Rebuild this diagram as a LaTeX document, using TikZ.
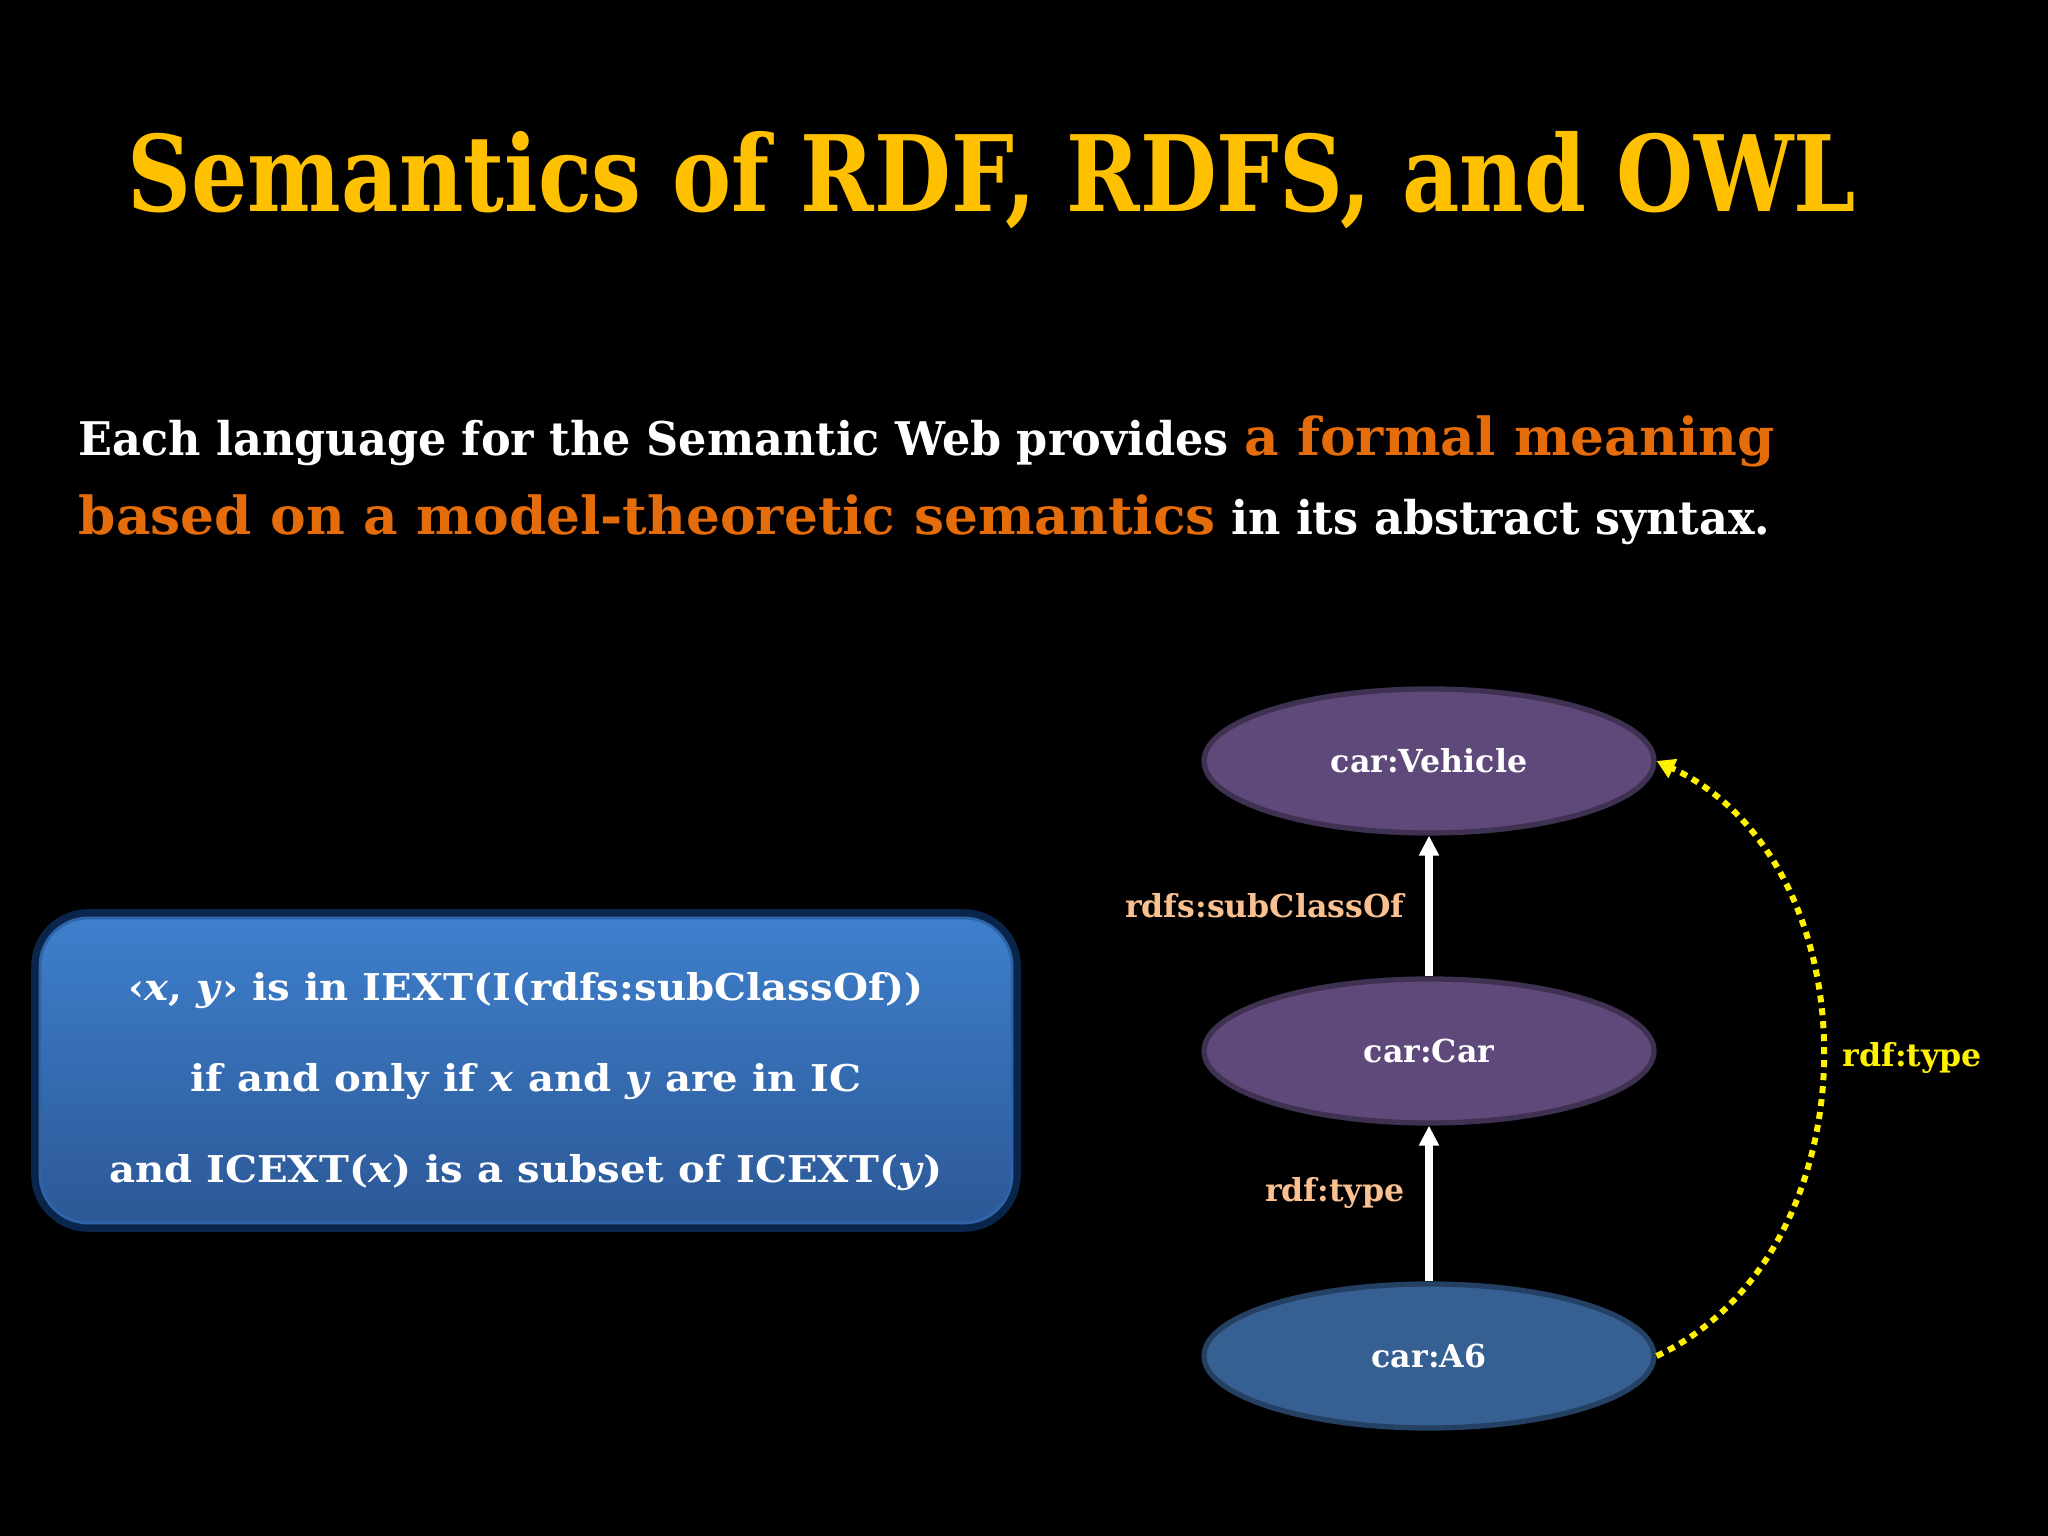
\documentclass[tikz,border=0pt]{standalone}
\usepackage{fontspec}
\setmainfont{DejaVu Serif}
\newfontfamily\titlefont{DejaVu Serif}[FakeStretch=0.84]
\newfontfamily\introfont{DejaVu Serif}[FakeStretch=0.96]
\newfontfamily\accentfont{DejaVu Serif}[FakeStretch=1.02]
\newfontfamily\boxfont{DejaVu Serif}[FakeStretch=1.09]
\usetikzlibrary{arrows.meta, positioning, shapes.geometric}

\definecolor{titleyellow}{HTML}{FFC000}
\definecolor{bodyorange}{HTML}{E46C0A}
\definecolor{edgepeach}{HTML}{FAC090}
\definecolor{classfill}{HTML}{5F497A}
\definecolor{classborder}{HTML}{3F3151}
\definecolor{instfill}{HTML}{376092}
\definecolor{instborder}{HTML}{244062}
\definecolor{boxtop}{HTML}{3E7FCC}
\definecolor{boxbottom}{HTML}{2C5896}
\definecolor{boxrim}{HTML}{2F64A8}
\definecolor{boxglow}{HTML}{0C2A55}

\newcommand{\orangetext}[1]{{\accentfont\color{bodyorange}\fontsize{14.9}{16}\selectfont #1}}

\begin{document}
\begin{tikzpicture}[
  class/.style={ellipse, draw=classborder, line width=1.5pt, fill=classfill,
    minimum width=4.5cm, minimum height=1.44cm, inner sep=0pt, text=white,
    font=\bfseries\fontsize{9}{11}\selectfont},
  inst/.style={class, draw=instborder, fill=instfill},
  uparrow/.style={draw=white, line width=2pt,
    -{Triangle[length=0.2cm, width=0.19cm]}},
  edgelabel/.style={text=edgepeach, font=\bfseries\fontsize{9}{11}\selectfont,
    inner sep=6pt},
  typeline/.style={draw=yellow, line width=1.7pt, dash pattern=on 2pt off 1.7pt,
    -{Triangle[length=0.18cm, width=0.2cm]}},
  defbox/.style={rounded corners=0.48cm, draw=boxrim, line width=0.8pt,
    top color=boxtop, bottom color=boxbottom,
    preaction={draw=boxglow, line width=5pt, opacity=0.9}}
]
  % black slide
  \fill[black] (0,0) rectangle (20.48,15.36);

  % title and intro text
  \node[anchor=base west, inner sep=0pt, text=titleyellow,
    font=\titlefont\bfseries\fontsize{30}{36}\selectfont]
    (title) at (1.27,13.24) {Semantics of RDF, RDFS, and OWL};
  \node[anchor=base west, inner sep=0pt, text=white,
    font=\introfont\bfseries\fontsize{13.2}{16}\selectfont] (introa) at (0.78,10.80)
    {Each language for the Semantic Web provides \orangetext{a formal meaning}};
  \node[anchor=base west, inner sep=0pt, text=white,
    font=\introfont\bfseries\fontsize{13.2}{16}\selectfont] (introb) at (0.78,10.01)
    {\orangetext{based on a model-theoretic semantics} in its abstract syntax.};

  % definition box
  \node[defbox, minimum width=9.72cm, minimum height=3.05cm] (def) at (5.26,4.655) {};
  \node[align=center, text=white, font=\boxfont\bfseries\fontsize{10.5}{26}\selectfont]
    (deftext) at ([yshift=-0.11cm]def.center)
    {‹\textit{x}, \textit{y}› is in IEXT(I(rdfs:subClassOf))\\
     if and only if \textit{x} and \textit{y} are in IC\\
     and ICEXT(\textit{x}) is a subset of ICEXT(\textit{y})};

  % graph
  \node[class] (vehicle) at (14.29,7.75) {car:Vehicle};
  \node[class] (car) at (14.29,4.85) {car:Car};
  \node[inst] (a6) at (14.29,1.80) {car:A6};

  \draw[uparrow] (car) -- node[edgelabel, left] {rdfs:subClassOf} (vehicle);
  \draw[uparrow] (a6) -- node[edgelabel, left, pos=0.57] {rdf:type} (car);
  \draw[typeline] (a6.east) to[out=25, in=-25, looseness=1.05]
    node[pos=0.5, right, text=yellow, inner sep=5pt,
      font=\bfseries\fontsize{9}{11}\selectfont] {rdf:type} (vehicle.east);
\end{tikzpicture}
\end{document}
